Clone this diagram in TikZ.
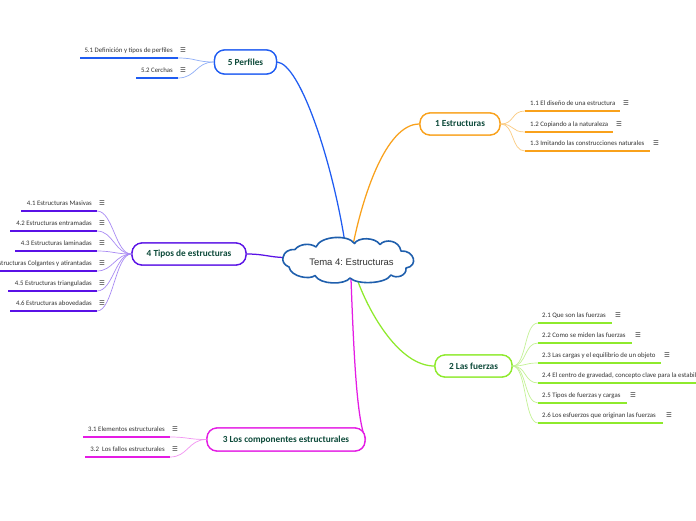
\documentclass[tikz,border=0pt]{standalone}
\usepackage{fontspec}
\setmainfont{Carlito}
\newfontfamily\arialf{Liberation Sans}
\newfontfamily\dejavu{DejaVu Sans}
\frenchspacing
\definecolor{cPerf}{HTML}{1F5CF2}
\definecolor{cPerfL}{HTML}{8FAEF7}
\definecolor{cEst}{HTML}{F9A11B}
\definecolor{cEstL}{HTML}{FBCB80}
\definecolor{cTip}{HTML}{5A12E6}
\definecolor{cTipL}{HTML}{A98BF4}
\definecolor{cFue}{HTML}{8EEA2C}
\definecolor{cFueL}{HTML}{C4F296}
\definecolor{cCom}{HTML}{E41CE4}
\definecolor{cComL}{HTML}{F294F2}
\definecolor{nodetext}{HTML}{0D4A3A}
\definecolor{cloudline}{HTML}{1F5FAD}
\definecolor{subtxt}{HTML}{333333}
\tikzset{
  mainnode/.style={draw=#1, rounded corners=10pt, line width=1.3pt, fill=white,
    text=nodetext, font=\fontsize{9.3}{11}\selectfont\bfseries, inner sep=0pt},
  mainconn/.style={draw=#1, line width=1.25pt},
  subconn/.style={draw=#1, line width=0.7pt},
  subline/.style={draw=#1, line width=1.6pt},
  subtext/.style={text=subtxt, font=\fontsize{6.8}{8}\selectfont, inner sep=0pt},
  icon/.style={text=subtxt, font=\dejavu\fontsize{6.5}{7}\selectfont, inner sep=0pt},
  cloudpath/.style={draw=cloudline, line width=1.6pt, fill=white, line join=round},
}
\begin{document}
\begin{tikzpicture}[x=1pt,y=-1pt]
\useasboundingbox (0,0) rectangle (696,520);
\clip (0,0) rectangle (696,520);
\fill[white] (0,0) rectangle (696,520);

% connector end points on the cloud
\coordinate (cPtop) at (345,243);
\coordinate (cEtop) at (353,245);
\coordinate (cTleft) at (286,257.5);
\coordinate (cFbot) at (357,279);
\coordinate (cCbot) at (351,279);

% main nodes (named, for anchors)
\node[mainnode=cPerf, minimum width=62pt, minimum height=24pt] (perf) at (245.5,62) {5 Perfiles};
\node[mainnode=cEst, minimum width=80pt, minimum height=22pt] (est) at (460,124) {1 Estructuras};
\node[mainnode=cTip, minimum width=114pt, minimum height=22pt] (tip) at (189,254) {4 Tipos de estructuras};
\node[mainnode=cFue, minimum width=77pt, minimum height=22pt] (fue) at (473.5,366) {2 Las fuerzas};
\node[mainnode=cCom, minimum width=158pt, minimum height=23pt] (com) at (286,439.5) {3 Los componentes estructurales};

\draw[mainconn=cPerf] (perf.east) .. controls (300,64) and (332,160) .. (cPtop);
\draw[mainconn=cEst] (cEtop) .. controls (362,200) and (385,124) .. (est.west);
\draw[mainconn=cTip] (tip.east) .. controls (265,254) and (270,257.5) .. (cTleft);
\draw[mainconn=cFue] (cFbot) .. controls (370,315) and (400,366) .. (fue.west);
\draw[mainconn=cCom] (cCbot) .. controls (354,360) and (357,420) .. (com.east);

% redraw nodes over connectors
\node[mainnode=cPerf, minimum width=62pt, minimum height=24pt] at (perf) {5 Perfiles};
\node[mainnode=cEst, minimum width=80pt, minimum height=22pt] at (est) {1 Estructuras};
\node[mainnode=cTip, minimum width=114pt, minimum height=22pt] at (tip) {4 Tipos de estructuras};
\node[mainnode=cFue, minimum width=77pt, minimum height=22pt] at (fue) {2 Las fuerzas};
\node[mainnode=cCom, minimum width=158pt, minimum height=23pt] at (com) {3 Los componentes estructurales};

% central cloud
\draw[cloudpath] (283,257.5)
  .. controls (284,252) and (289,249) .. (295,249.5)
  .. controls (299,244) and (310,242.5) .. (316,247)
  .. controls (320,236) and (348,234) .. (354.5,243.5)
  .. controls (358,237) and (375,237) .. (380,244.5)
  .. controls (385,238.5) and (399,240) .. (401,251)
  .. controls (414,250) and (419,266) .. (406,268)
  .. controls (407,276) and (396,279) .. (391,275)
  .. controls (386,284) and (357,285) .. (350,278)
  .. controls (345,285) and (320,285) .. (315,275.5)
  .. controls (310,280) and (291,277) .. (289,267)
  .. controls (284,265) and (282,261) .. cycle;
\node[font=\arialf\fontsize{9.5}{11}\selectfont, text=subtxt, inner sep=0pt] (center) at (351.5,262.5) {Tema 4: Estructuras};

% --- 5 Perfiles (left)
\foreach \n/\y/\xa/\t in {51/58/80/{5.1 Definición y tipos de perfiles}, 52/78/136/{5.2 Cerchas}} {
  \coordinate (s\n a) at (\xa,\y);
  \coordinate (s\n b) at (178,\y);
  \draw[subconn=cPerfL] (perf.west) .. controls +(-18,0) and +(18,0) .. (s\n b);
  \draw[subline=cPerf] (s\n a) -- (s\n b);
  \node[subtext, anchor=base east] (t\n) at (173,\y-5.5) {\t};
  \node[icon] (i\n) at (183,\y-8) {☰};
}

% --- 1 Estructuras (right)
\foreach \n/\y/\xb/\t in {11/111/620/{1.1 El diseño de una estructura}, 12/132/613/{1.2 Copiando a la naturaleza}, 13/151/650/{1.3 Imitando las construcciones naturales}} {
  \coordinate (s\n a) at (525,\y);
  \coordinate (s\n b) at (\xb,\y);
  \draw[subconn=cEstL] (est.east) .. controls +(14,0) and +(-14,0) .. (s\n a);
  \draw[subline=cEst] (s\n a) -- (s\n b);
  \node[subtext, anchor=base west] (t\n) at (530,\y-5.5) {\t};
  \node[icon] (i\n) at (\xb+6,\y-8) {☰};
}

% --- 4 Tipos de estructuras (left)
\foreach \n/\y/\xa/\t in {41/211/21/{4.1 Estructuras Masivas}, 42/231/10/{4.2 Estructuras entramadas}, 43/251/15/{4.3 Estructuras laminadas}, 44/271/-20/{4.4 Estructuras Colgantes y atirantadas}, 45/291/8/{4.5 Estructuras trianguladas}, 46/311/10/{4.6 Estructuras abovedadas}} {
  \coordinate (s\n a) at (\xa,\y);
  \coordinate (s\n b) at (97,\y);
  \draw[subconn=cTipL] (tip.west) .. controls +(-16,0) and +(16,0) .. (s\n b);
  \draw[subline=cTip] (s\n a) -- (s\n b);
  \node[subtext, anchor=base east] (t\n) at (92,\y-5.5) {\t};
  \node[icon] (i\n) at (102,\y-8) {☰};
}

% --- 2 Las fuerzas (right)
\foreach \n/\y/\xb/\t in {21/323/612/{2.1 Que son las fuerzas}, 22/343/632/{2.2 Como se miden las fuerzas}, 23/363/661/{2.3 Las cargas y el equilibrio de un objeto}, 25/403/627/{2.5 Tipos de fuerzas y cargas}, 26/423/663/{2.6 Los esfuerzos que originan las fuerzas}} {
  \coordinate (s\n a) at (538,\y);
  \coordinate (s\n b) at (\xb,\y);
  \draw[subconn=cFueL] (fue.east) .. controls +(14,0) and +(-14,0) .. (s\n a);
  \draw[subline=cFue] (s\n a) -- (s\n b);
  \node[subtext, anchor=base west] (t\n) at (542,\y-5.5) {\t};
  \node[icon] (i\n) at (\xb+6,\y-8) {☰};
}
\coordinate (s24a) at (538,383);
\coordinate (s24b) at (720,383);
\draw[subconn=cFueL] (fue.east) .. controls +(14,0) and +(-14,0) .. (s24a);
\draw[subline=cFue] (s24a) -- (s24b);
\node[subtext, anchor=base west] (t24) at (542,377.5) {2.4 El centro de gravedad, concepto clave para la estabilidad};

% --- 3 Los componentes estructurales (left)
\foreach \n/\y/\xa/\t in {31/437/83/{3.1 Elementos estructurales}, 32/457/85/{3.2~ Los fallos estructurales}} {
  \coordinate (s\n a) at (\xa,\y);
  \coordinate (s\n b) at (170,\y);
  \draw[subconn=cComL] (com.west) .. controls +(-18,0) and +(18,0) .. (s\n b);
  \draw[subline=cCom] (s\n a) -- (s\n b);
  \node[subtext, anchor=base east] (t\n) at (165,\y-5.5) {\t};
  \node[icon] (i\n) at (175,\y-8) {☰};
}
\end{tikzpicture}
\end{document}
